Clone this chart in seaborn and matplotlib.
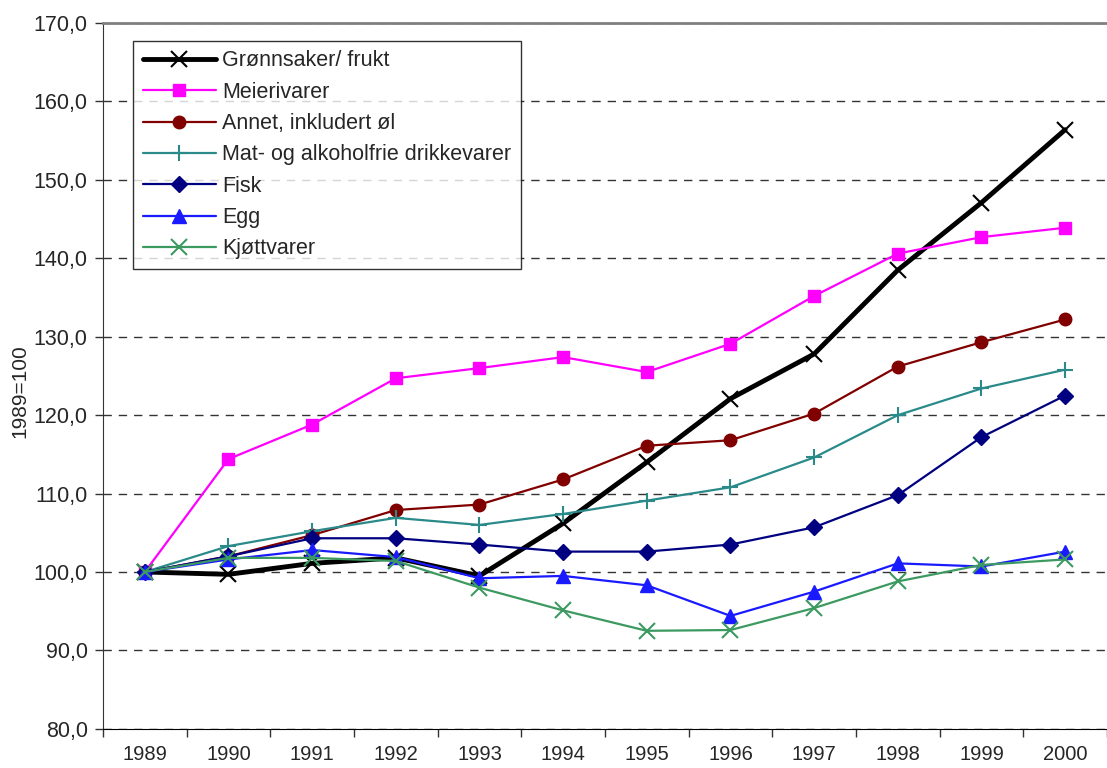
import pandas as pd
import seaborn as sns
import matplotlib.pyplot as plt

years = ['1989', '1990', '1991', '1992', '1993', '1994', '1995', '1996', '1997', '1998', '1999', '2000']

gronnsaker = [100.0, 99.7, 101.1, 101.8, 99.5, 106.2, 114.0, 122.1, 127.8, 138.5, 147.1, 156.4]
meierivarer = [100.0, 114.4, 118.8, 124.7, 126.0, 127.4, 125.5, 129.1, 135.2, 140.6, 142.7, 143.9]
annet = [100.0, 102.0, 104.7, 107.9, 108.6, 111.8, 116.1, 116.8, 120.2, 126.2, 129.3, 132.2]
mat = [100.0, 103.3, 105.2, 106.9, 106.0, 107.4, 109.1, 110.8, 114.6, 120.0, 123.4, 125.8]
fisk = [100.0, 102.0, 104.3, 104.3, 103.5, 102.6, 102.6, 103.5, 105.7, 109.8, 117.2, 122.5]
egg = [100.0, 101.6, 102.8, 101.9, 99.2, 99.5, 98.3, 94.4, 97.5, 101.1, 100.7, 102.6]
kjott = [100.0, 101.8, 101.8, 101.4, 98.0, 95.1, 92.5, 92.6, 95.4, 98.8, 100.9, 101.6]

series = {
    'Grønnsaker/ frukt': gronnsaker,
    'Meierivarer': meierivarer,
    'Annet, inkludert øl': annet,
    'Mat- og alkoholfrie drikkevarer': mat,
    'Fisk': fisk,
    'Egg': egg,
    'Kjøttvarer': kjott,
}

palette = {
    'Grønnsaker/ frukt': '#000000',
    'Meierivarer': '#ff00ff',
    'Annet, inkludert øl': '#800000',
    'Mat- og alkoholfrie drikkevarer': '#2a8a8a',
    'Fisk': '#000080',
    'Egg': '#1a1aff',
    'Kjøttvarer': '#3c9a60',
}
markers = {
    'Grønnsaker/ frukt': 'x',
    'Meierivarer': 's',
    'Annet, inkludert øl': 'o',
    'Mat- og alkoholfrie drikkevarer': '+',
    'Fisk': 'D',
    'Egg': '^',
    'Kjøttvarer': 'x',
}

rows = []
for name, vals in series.items():
    for i, v in enumerate(vals):
        rows.append({'pos': i, 'serie': name, 'value': v})
df = pd.DataFrame(rows)

sns.set_style('white')
plt.rcParams['font.family'] = ['Liberation Sans', 'DejaVu Sans']

fig = plt.figure(figsize=(11.07, 7.68), dpi=100)
ax = fig.add_axes([0.093, 0.051, 0.907, 0.919])

for name in series:
    sub = df[df['serie'] == name]
    lw = 3.5 if name == 'Grønnsaker/ frukt' else 1.6
    ms = {'x': 11, 's': 9, 'o': 9, '+': 12, 'D': 8, '^': 10}[markers[name]]
    mew = 1.5 if markers[name] in ('x', '+') else 1
    sns.lineplot(data=sub, x='pos', y='value', ax=ax, color=palette[name],
                 marker=markers[name], markersize=ms, markeredgewidth=mew,
                 markeredgecolor=palette[name], linewidth=lw, label=name)

ax.set_xlim(-0.5, 11.5)
ax.set_ylim(80, 170)
ax.set_yticks(range(80, 171, 10))
ax.set_yticklabels([f'{v},0' for v in range(80, 171, 10)], fontsize=15.5)
ax.set_xticks(range(len(years)))
ax.set_xticklabels(years, fontsize=14.5)
ax.set_xticks([i - 0.5 for i in range(len(years) + 1)], minor=True)
ax.tick_params(axis='x', which='major', length=0, pad=12)
ax.tick_params(axis='x', which='minor', length=6, width=1, color='#333333', direction='out', bottom=True)
ax.tick_params(axis='y', length=6, width=1, color='#333333', direction='out', left=True, pad=5)

ax.yaxis.grid(True, linestyle=(0, (6, 5)), color='#333333', linewidth=1)
ax.xaxis.grid(False)
ax.set_axisbelow(True)

ax.set_xlabel('')
ax.set_ylabel('1989=100', fontsize=15)
ax.yaxis.set_label_coords(-0.073, 0.478)

ax.spines['left'].set_color('#333333')
ax.spines['bottom'].set_color('#000000')
ax.spines['top'].set_color('#808080')
ax.spines['top'].set_linewidth(2)
ax.spines['right'].set_visible(False)

leg = ax.legend(loc='upper left', bbox_to_anchor=(0.03, 0.975), borderaxespad=0, fontsize=15.5,
                frameon=True, fancybox=False, edgecolor='#000000',
                handlelength=3.4, labelspacing=0.48, borderpad=0.45, handletextpad=0.3)
leg.get_frame().set_linewidth(1)

fig.savefig('out.png', dpi=100)
